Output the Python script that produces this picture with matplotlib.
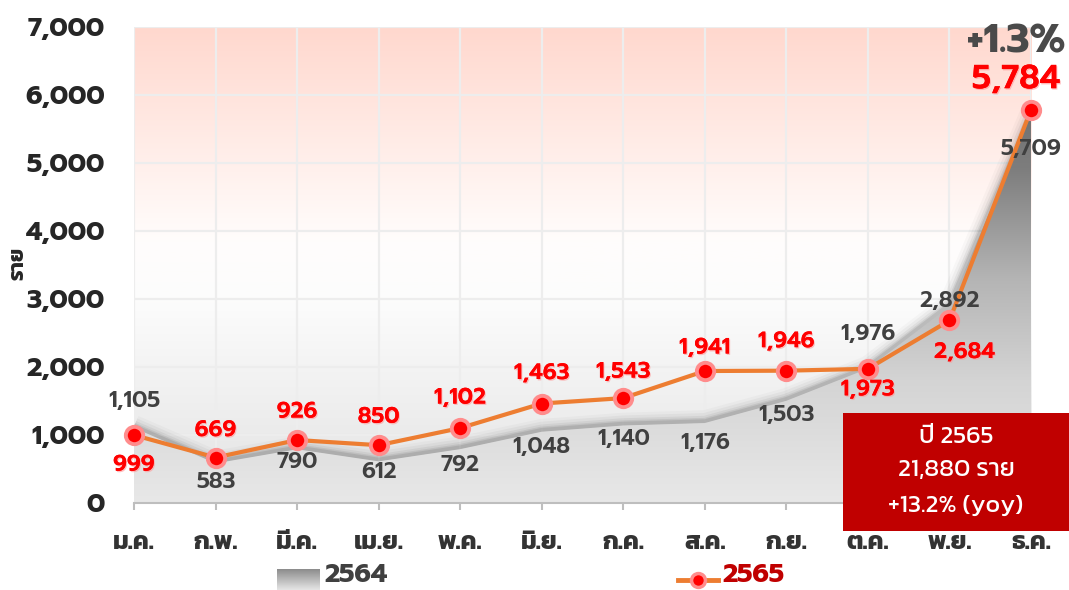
import numpy as np
import matplotlib
matplotlib.use("Agg")
import matplotlib.pyplot as plt
from matplotlib.colors import LinearSegmentedColormap
from matplotlib.patches import Rectangle, Polygon
from matplotlib.lines import Line2D
import matplotlib.patheffects as pe

# ---------------- data ----------------
months = ["ม.ค.", "ก.พ.", "มี.ค.", "เม.ย.", "พ.ค.", "มิ.ย.",
          "ก.ค.", "ส.ค.", "ก.ย.", "ต.ค.", "พ.ย.", "ธ.ค."]
cases_2564 = [1105, 583, 790, 612, 792, 1048, 1140, 1176, 1503, 1976, 2892, 5709]
cases_2565 = [999, 669, 926, 850, 1102, 1463, 1543, 1941, 1946, 1973, 2684, 5784]
y_ticks = [0, 1000, 2000, 3000, 4000, 5000, 6000, 7000]
series_names = ["2564", "2565"]
summary_lines = ["ปี 2565", "21,880 ราย", "+13.2% (yoy)"]
growth_text = "+1.3%"
y_label = "ราย"

# label offsets (pixels) for data labels
off_2564 = [(0, 26), (0, -19), (0, -13), (0, -11), (0, -16), (0, -16),
            (0, -14), (0, -20), (0, -15), (0, 34), (0, 5), (0, -35)]
off_2565 = [(0, -30), (0, 27), (0, 28), (0, 28), (0, 30), (0, 30),
            (0, 26), (0, 23), (0, 29), (0, -21), (15, -32), (-15, 30)]

NUM = ["Prompt", "Kanit", "DejaVu Sans"]
THAI = ["Kanit", "DejaVu Sans"]
plt.rcParams["font.family"] = NUM

W, H = 1069, 590
fig = plt.figure(figsize=(W / 100, H / 100), dpi=100)
fig.patch.set_facecolor("white")

L, R, T, B = 134, 1031, 27, 503
ax = fig.add_axes([L / W, 1 - B / H, (R - L) / W, (B - T) / H])
x = np.arange(len(months))
ax.set_xlim(0, 11)
ax.set_ylim(0, 7000)

# ---- background gradient (pink top -> white -> light gray bottom)
bg_cmap = LinearSegmentedColormap.from_list(
    "bg", [(0.0, (226/255, 226/255, 226/255)),
           (0.42, (252/255, 252/255, 252/255)),
           (0.55, (255/255, 253/255, 252/255)),
           (1.0, (255/255, 216/255, 206/255))])
grad = np.linspace(0, 1, 256).reshape(-1, 1)
ax.imshow(grad, cmap=bg_cmap, origin="lower", aspect="auto",
          extent=[0, 11, 0, 7000], zorder=0)

# grid
for yt in y_ticks[1:]:
    ax.axhline(yt, color=(0.93, 0.93, 0.93), lw=1.6, zorder=1)
for xi in x:
    ax.axvline(xi, color=(0.93, 0.93, 0.93), lw=1.6, zorder=1)

# ---- shadow for 2564 area
y64 = np.array(cases_2564, dtype=float)
for w, a in [(16, 0.025), (12, 0.035), (8, 0.05), (5, 0.07), (3, 0.09)]:
    ax.plot(x, y64 + 25, color="black", lw=w, alpha=a, zorder=2,
            solid_joinstyle="round", solid_capstyle="butt")

# ---- 2564 area with vertical gradient
poly_pts = np.vstack([np.column_stack([x, y64]), [[11, 0], [0, 0]]])
poly = Polygon(poly_pts, closed=True, transform=ax.transData,
               facecolor="none", edgecolor="none")
ax.add_patch(poly)
area_cmap = LinearSegmentedColormap.from_list(
    "area", [(0.0, (232/255,)*3), (0.3, (212/255,)*3),
             (0.55, (180/255,)*3), (0.82, (125/255,)*3), (1.0, (110/255,)*3)])
g2 = np.linspace(0, 1, 256).reshape(-1, 1)
im = ax.imshow(g2, cmap=area_cmap, origin="lower", aspect="auto",
               extent=[0, 11, 0, 6000], zorder=3)
im.set_clip_path(poly)
ax.set_ylim(0, 7000)
ax.set_xlim(0, 11)

# ---- 2565 line
ax.plot(x, cases_2565, color="#ED7D31", lw=3.0, zorder=5,
        solid_joinstyle="round")
ax.plot(x, cases_2565, linestyle="none", marker="o", ms=12.5,
        markerfacecolor="#FF0000", markeredgecolor="#FF8C8C", mew=2.8,
        zorder=6, clip_on=False)

# ---- data labels
for xi, v, (dx, dy) in zip(x, cases_2564, off_2564):
    ax.annotate(f"{v:,}", (xi, v), xytext=(dx, dy), textcoords="offset pixels",
                ha="center", va="center", fontsize=16, fontweight="semibold",
                color="#404040", zorder=8, annotation_clip=False)
for i, (xi, v, (dx, dy)) in enumerate(zip(x, cases_2565, off_2565)):
    big = i == len(x) - 1
    ax.annotate(f"{v:,}", (xi, v), xytext=(dx, dy), textcoords="offset pixels",
                ha="center", va="center", fontsize=24 if big else 16,
                fontweight="semibold", color="#FF0000", zorder=8,
                annotation_clip=False,
                path_effects=[pe.withSimplePatchShadow(offset=(0.8, -1.0),
                                                      shadow_rgbFace=(1, 0.6, 0.6),
                                                      alpha=0.6),
                              pe.Normal()])

# growth text
ax.annotate(growth_text, (11, cases_2565[-1]), xytext=(-15, 68),
            textcoords="offset pixels", ha="center", va="center",
            fontsize=29, fontweight="bold", color="#4A4A4A", zorder=8,
            annotation_clip=False)

# ---- axes styling
for s in ["top", "right", "left"]:
    ax.spines[s].set_visible(False)
ax.spines["bottom"].set_color("#BEBEBE")
ax.spines["bottom"].set_linewidth(1.5)
ax.spines["bottom"].set_zorder(4)
ax.set_yticks(y_ticks)
ax.set_yticklabels([f"{v:,}" for v in y_ticks])
ax.set_xticks(x)
ax.set_xticklabels(months)
ax.tick_params(axis="y", length=0, pad=21, labelsize=19, labelcolor="#262626")
ax.tick_params(axis="x", length=5, width=1.5, color="#BEBEBE", direction="out",
               pad=16, labelsize=18, labelcolor="#333333")
for lbl in ax.get_yticklabels():
    lbl.set_fontweight("bold")
for lbl in ax.get_xticklabels():
    lbl.set_fontweight("bold")
    lbl.set_family(THAI)
fig.text(18 / W, 1 - 263 / H, y_label, rotation=90, ha="center", va="center",
         fontsize=15, fontweight="bold", color="#262626", family=THAI)

# ---- summary box
bx0, by0, bx1, by1 = 843, 413, 1069, 531
fig.patches.append(Rectangle((bx0 / W, 1 - by1 / H), (bx1 - bx0) / W, (by1 - by0) / H,
                             transform=fig.transFigure, facecolor="#C00000",
                             edgecolor="none", zorder=10))
for txt, yy in zip(summary_lines, [437, 470, 506]):
    fig.text(956 / W, 1 - yy / H, txt, ha="center", va="center", fontsize=18,
             fontweight="normal", color="white", zorder=11, family=THAI)

# ---- legend
lax = fig.add_axes([277 / W, 0, (320 - 277) / W, (590 - 569) / H])
lax.imshow(np.linspace(0, 1, 64).reshape(-1, 1),
           cmap=LinearSegmentedColormap.from_list("lg", [(0.55, 0.55, 0.55), (0.9, 0.9, 0.9)]),
           aspect="auto")
lax.axis("off")
fig.text(324 / W, 1 - 576 / H, series_names[0], ha="left", va="center",
         fontsize=19, fontweight="bold", color="#404040")
fig.add_artist(Line2D([678 / W, 718 / W], [1 - 580 / H, 1 - 580 / H],
                      transform=fig.transFigure, color="#ED7D31", lw=3.5))
fig.add_artist(Line2D([698 / W], [1 - 580 / H], transform=fig.transFigure,
                      marker="o", ms=10, markerfacecolor="#FF0000",
                      markeredgecolor="#FF8C8C", mew=2.5, linestyle="none"))
fig.text(722 / W, 1 - 576 / H, series_names[1], ha="left", va="center",
         fontsize=19, fontweight="bold", color="#C00000")

fig.savefig("out.png", dpi=100)
